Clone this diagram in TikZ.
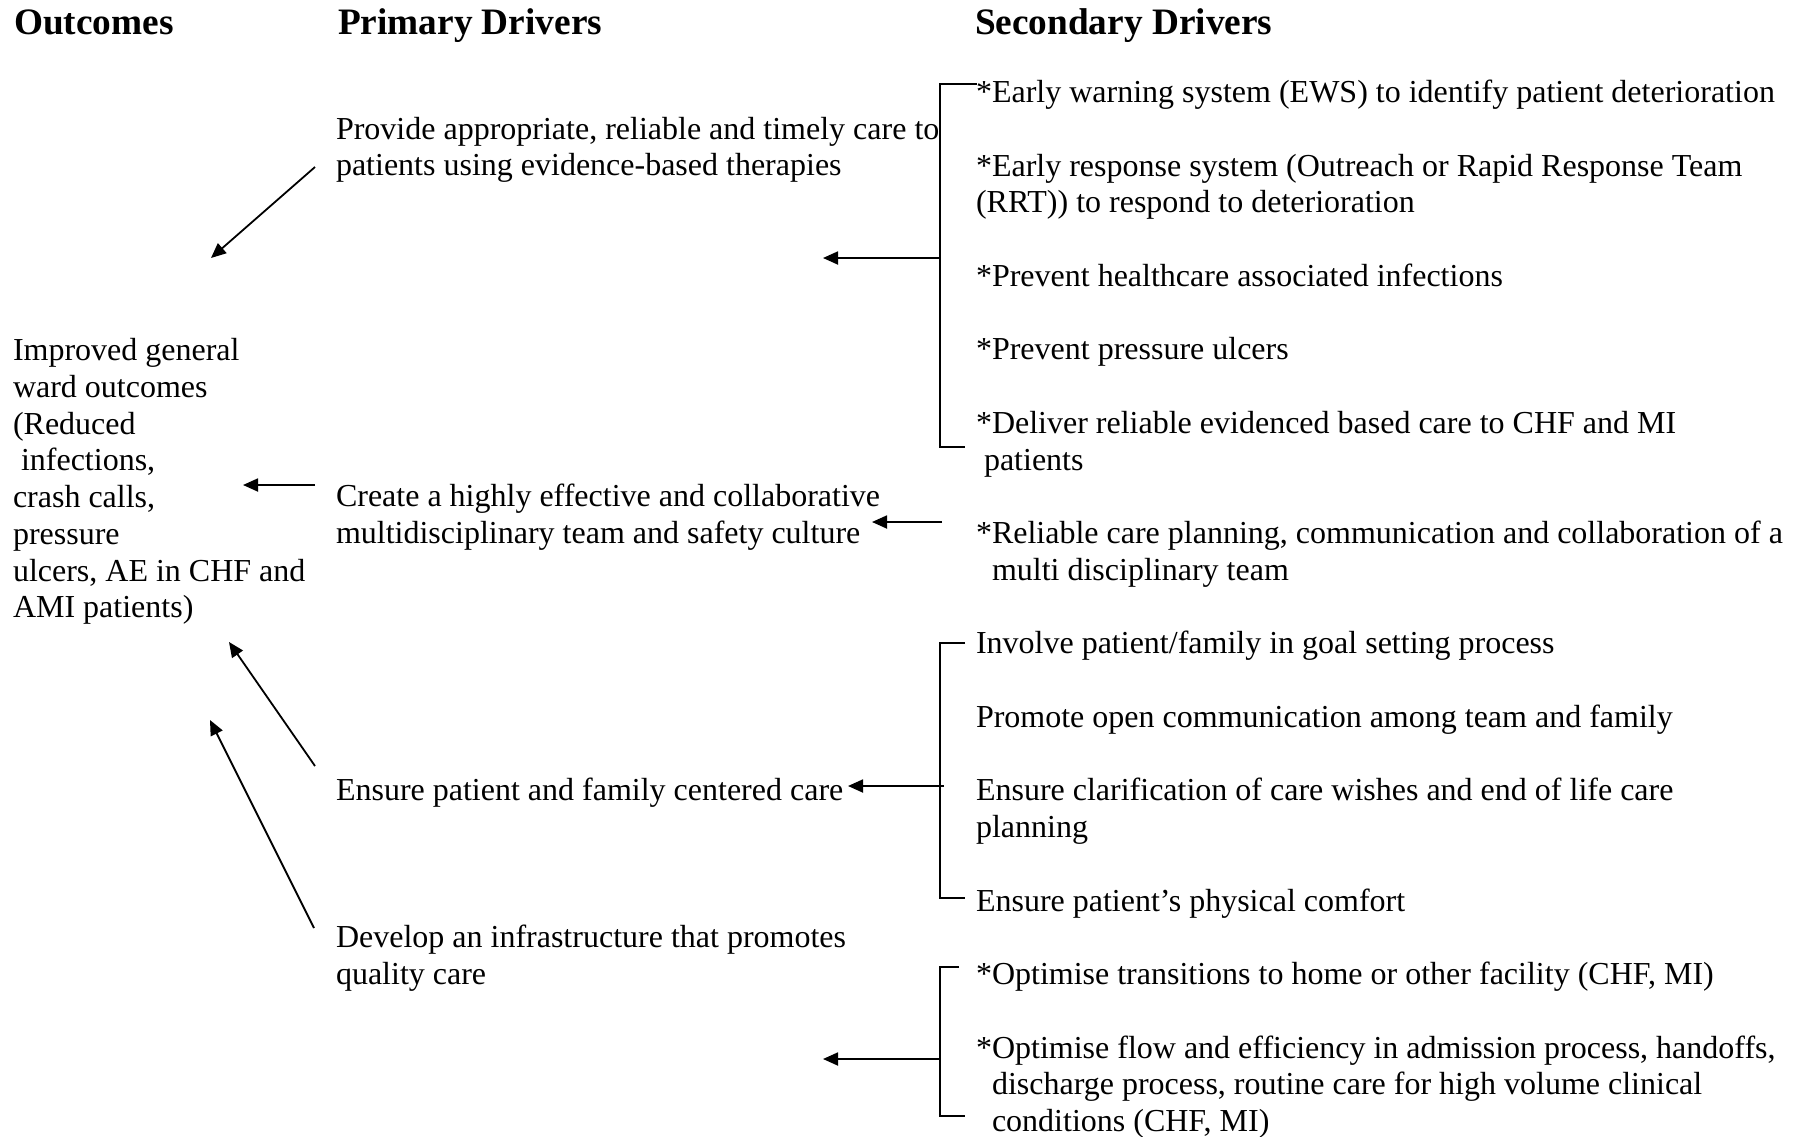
\documentclass[tikz,border=0pt]{standalone}
\usepackage{fontspec}
\setmainfont{Liberation Serif}
\usetikzlibrary{arrows.meta}
\newcommand{\plines}[1]{\vtop{\halign{##\hfil\cr#1\crcr}}}
\begin{document}
\begin{tikzpicture}[x=1pt,y=-1pt,
  txt/.style={inner sep=0pt, outer sep=0pt, anchor=base west, font=\fontsize{32}{36.75}\selectfont},
  hdr/.style={inner sep=0pt, outer sep=0pt, anchor=base west, font=\fontsize{37.3}{42}\selectfont\bfseries},
  link/.style={line width=1.8pt, -{Triangle[length=15pt,width=13pt]}},
  brk/.style={line width=1.8pt}]
\useasboundingbox (0,0) rectangle (1800,1136);
\fill[white] (0,0) rectangle (1800,1136);

% headers
\node[hdr] (hOut) at (14,34) {Outcomes};
\node[hdr] (hPri) at (338,34) {Primary Drivers};
\node[hdr] (hSec) at (975,34) {Secondary Drivers};

% outcome
\node[txt] (out) at (13,360.5) {\plines{Improved general\cr ward outcomes\cr (Reduced\cr \kern8pt infections,\cr crash calls,\cr pressure\cr ulcers, AE in CHF and\cr AMI patients)}};

% primary drivers
\node[txt] (p1) at (336,139) {\plines{Provide appropriate, reliable and timely care to\cr patients using evidence-based therapies}};
\node[txt] (p2) at (336,506.5) {\plines{Create a highly effective and collaborative\cr multidisciplinary team and safety culture}};
\node[txt] (p3) at (336,800.5) {Ensure patient and family centered care};
\node[txt] (p4) at (336,947.5) {\plines{Develop an infrastructure that promotes\cr quality care}};

% secondary drivers (baseline = 102.5 + 36.75 k)
\node[txt] (s1) at (976,102.5) {*Early warning system (EWS) to identify patient deterioration};
\node[txt] (s2) at (976,176) {\plines{*Early response system (Outreach or Rapid Response Team\cr (RRT)) to respond to deterioration}};
\node[txt] (s3) at (976,286.3) {*Prevent healthcare associated infections};
\node[txt] (s4) at (976,359.8) {*Prevent pressure ulcers};
\node[txt] (s5) at (976,433.3) {\plines{*Deliver reliable evidenced based care to CHF and MI\cr \kern8pt patients}};
\node[txt] (s6) at (976,543.5) {\plines{*Reliable care planning, communication and collaboration of a\cr \kern16pt multi disciplinary team}};
\node[txt] (s7) at (976,653.8) {Involve patient/family in goal setting process};
\node[txt] (s8) at (976,727.3) {Promote open communication among team and family};
\node[txt] (s9) at (976,800.8) {\plines{Ensure clarification of care wishes and end of life care\cr planning}};
\node[txt] (s10) at (976,911) {Ensure patient’s physical comfort};
\node[txt] (s11) at (976,984.5) {*Optimise transitions to home or other facility (CHF, MI)};
\node[txt] (s12) at (976,1058) {\plines{*Optimise flow and efficiency in admission process, handoffs,\cr \kern16pt discharge process, routine care for high volume clinical\cr \kern16pt conditions (CHF, MI)}};

% bracket coordinates
\coordinate (b1t) at (977,84);   \coordinate (b1tc) at (940,84);
\coordinate (b1b) at (965,447);  \coordinate (b1bc) at (940,447);
\coordinate (b1m) at (940,258);  \coordinate (b1e) at (823,258);

\coordinate (a2s) at (942,522);  \coordinate (a2e) at (872,522);

\coordinate (b3t) at (965,643);  \coordinate (b3tc) at (940,643);
\coordinate (b3b) at (965,898);  \coordinate (b3bc) at (940,898);
\coordinate (b3m) at (944,786);  \coordinate (b3e) at (848,786);

\coordinate (b4t) at (959,967);  \coordinate (b4tc) at (940,967);
\coordinate (b4b) at (965,1116); \coordinate (b4bc) at (940,1116);
\coordinate (b4m) at (940,1059); \coordinate (b4e) at (823,1059);

% brackets and arrows to primary drivers
\draw[brk] (b1t) -- (b1tc) -- (b1bc) -- (b1b);
\draw[link] (b1m) -- (b1e);
\draw[link] (a2s) -- (a2e);
\draw[brk] (b3t) -- (b3tc) -- (b3bc) -- (b3b);
\draw[link] (b3m) -- (b3e);
\draw[brk] (b4t) -- (b4tc) -- (b4bc) -- (b4b);
\draw[link] (b4m) -- (b4e);

% arrows to outcome
\coordinate (oA) at (315,167);  \coordinate (oAe) at (211,258);
\coordinate (oB) at (315,485);  \coordinate (oBe) at (243,485);
\coordinate (oC) at (315,766);  \coordinate (oCe) at (229,642);
\coordinate (oD) at (314,928);  \coordinate (oDe) at (210,720);
\draw[link] (oA) -- (oAe);
\draw[link] (oB) -- (oBe);
\draw[link] (oC) -- (oCe);
\draw[link] (oD) -- (oDe);
\end{tikzpicture}
\end{document}
